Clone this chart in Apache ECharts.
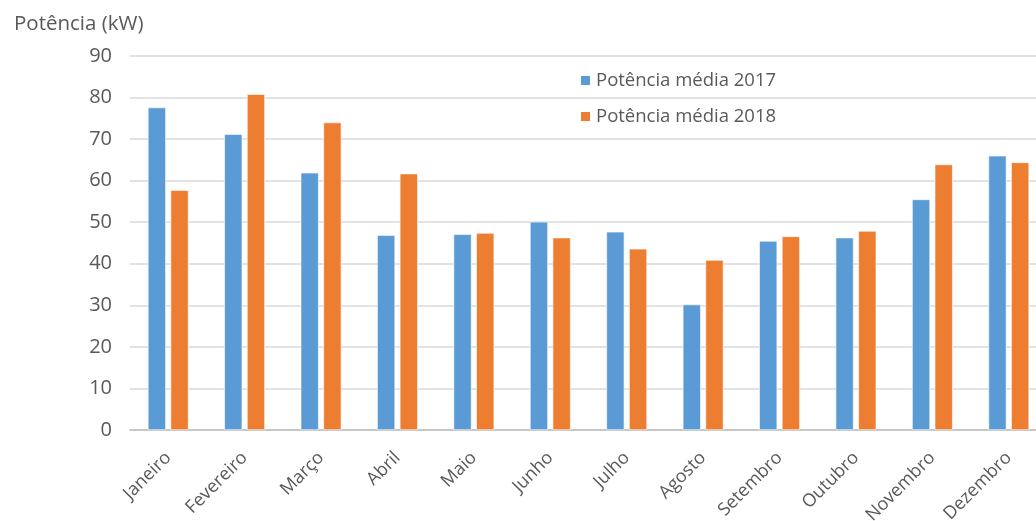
<!DOCTYPE html>
<html>
<head>
<meta charset="utf-8">
<script src="https://cdn.jsdelivr.net/npm/echarts@6/dist/echarts.min.js"></script>
<style>
  html, body { margin: 0; padding: 0; background: #fff; }
  #chart { width: 1036px; height: 521px; }
</style>
</head>
<body>
<div id="chart"></div>
<script>
// Monthly average power, kW
const months = ['Janeiro', 'Fevereiro', 'Março', 'Abril', 'Maio', 'Junho',
  'Julho', 'Agosto', 'Setembro', 'Outubro', 'Novembro', 'Dezembro'];
const power2017 = [77.6, 71.2, 61.9, 46.9, 47.1, 50.1, 47.7, 30.2, 45.5, 46.3, 55.5, 66.0];
const power2018 = [57.7, 80.8, 74.0, 61.7, 47.4, 46.3, 43.6, 40.9, 46.6, 47.9, 63.9, 64.4];
const yTicks = { min: 0, max: 90, interval: 10 };

const font = '"Open Sans", "Liberation Sans", sans-serif';
const textColor = '#595959';

const chart = echarts.init(document.getElementById('chart'));
chart.setOption({
  animation: false,
  textStyle: { fontFamily: font },
  grid: {
    left: 130, top: 56, width: 917, height: 374,
    containLabel: false, outerBoundsMode: 'none'
  },
  title: {
    text: 'Potência (kW)',
    left: 9, top: 9,
    textStyle: { fontFamily: font, fontSize: 20.5, fontWeight: 'normal', color: textColor }
  },
  legend: {
    orient: 'vertical',
    left: 574, top: 66,
    itemWidth: 11, itemHeight: 11, itemGap: 17,
    icon: 'rect',
    textStyle: { fontFamily: font, fontSize: 18.5, color: textColor },
    data: ['Potência média 2017', 'Potência média 2018']
  },
  xAxis: {
    type: 'category',
    data: months,
    axisLine: { lineStyle: { color: '#bfbfbf', width: 1.5 } },
    axisTick: { show: false },
    axisLabel: {
      rotate: 45, interval: 0, margin: 25,
      fontFamily: font, fontSize: 18, color: textColor
    }
  },
  yAxis: {
    type: 'value',
    min: yTicks.min, max: yTicks.max, interval: yTicks.interval,
    axisLine: { show: false },
    axisTick: { show: false },
    axisLabel: { margin: 18, fontFamily: font, fontSize: 20, color: textColor },
    splitLine: { lineStyle: { color: '#d9d9d9', width: 1.5 } }
  },
  series: [
    {
      name: 'Potência média 2017',
      type: 'bar',
      data: power2017,
      barWidth: 18,
      barGap: '26%',
      itemStyle: { color: '#5B9BD5', borderColor: '#ffffff', borderWidth: 0.6 }
    },
    {
      name: 'Potência média 2018',
      type: 'bar',
      data: power2018,
      barWidth: 18,
      barGap: '26%',
      itemStyle: { color: '#ED7D31', borderColor: '#ffffff', borderWidth: 0.6 }
    }
  ]
});
</script>
</body>
</html>
